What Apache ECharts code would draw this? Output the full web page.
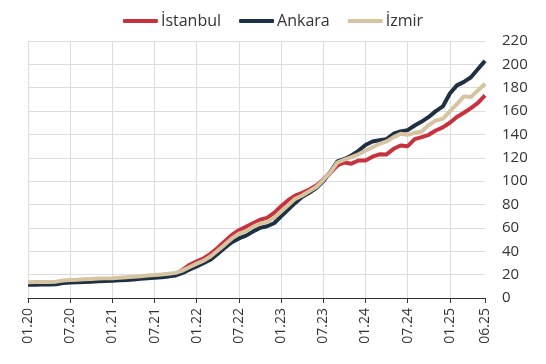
<!DOCTYPE html>
<html>
<head>
<meta charset="utf-8">
<script src="https://cdn.jsdelivr.net/npm/echarts@6/dist/echarts.min.js"></script>
<style>html,body{margin:0;padding:0;background:#fff;}#c{width:546px;height:364px;}</style>
</head>
<body>
<div id="c"></div>
<script>
const months = [];
for (let y = 20; y <= 25; y++) {
  for (let m = 1; m <= 12; m++) {
    if (y === 25 && m > 6) break;
    months.push((m < 10 ? '0' + m : '' + m) + '.' + y);
  }
}
const istanbul = [12.4,12.5,12.6,12.6,12.9,14,14.5,14.7,15,15.3,15.6,15.8,16,16.3,16.8,17.2,17.7,18.2,18.6,19.2,19.9,20.8,24,28.5,31.4,34,38,43,48.6,54,58,61,64,67,68.6,72.9,78.6,83.7,87.7,90,92.9,96.3,101.4,107,113.4,116,115,117.7,117.7,121,123,122.9,127.7,130.6,130,136,137.7,139.7,143.4,146,150,155,158.6,162.6,167,173.4];
const ankara = [11.3,11.4,11.5,11.5,11.7,12.8,13.3,13.5,13.7,14,14.3,14.5,14.8,15.1,15.5,15.9,16.4,16.8,17.3,17.8,18.5,19.3,21.5,24.5,27,30,33,38,43,47.7,51,53.4,57,60,61.4,64,70,75.7,81.4,86.6,90,94,100,108,117,119,122,126,131,134,135,136,140.6,142.6,143.7,147.7,151,155,160,164,175,182,185,189,196,203];
const izmir = [13.5,13.6,13.7,13.7,14,15,15.5,15.7,16,16.3,16.6,16.8,17,17.3,17.8,18.2,18.7,19.2,19.6,20.2,20.8,21.5,23.5,26.5,29.4,32,35.7,40.6,45.7,51,55,57,60.9,63.7,65,68.6,74,79.4,84.9,87.7,91.4,95,101,107.5,116,118.5,120.6,123,126,129,132,134,137.7,140.6,139.7,141.4,142.6,148,152,153.4,159.7,166,172.6,172,177.7,183.4];
const seriesNames = ['İstanbul', 'Ankara', 'İzmir'];
const colors = ['#c8323f', '#1e3044', '#d6c3a0'];

const lastIdx = months.length - 1;
const chart = echarts.init(document.getElementById('c'));
const font = '"Open Sans", "Noto Sans", sans-serif';
chart.setOption({
  animation: false,
  textStyle: { fontFamily: font },
  legend: {
    top: 8,
    left: 'center',
    icon: 'roundRect',
    itemWidth: 35,
    itemHeight: 4,
    itemGap: 18,
    textStyle: { fontSize: 16, color: '#333', fontFamily: font, padding: [0, 0, 0, -2] },
    data: seriesNames
  },
  grid: { left: 28, right: 61, top: 41, bottom: 66, containLabel: false },
  xAxis: {
    type: 'category',
    data: months,
    boundaryGap: false,
    axisLine: { lineStyle: { color: '#333', width: 1.2 } },
    axisTick: { length: 5, lineStyle: { color: '#333' }, interval: (i) => i % 6 === 0 || i === lastIdx },
    axisLabel: { rotate: 90, fontSize: 14, color: '#333', margin: 10, fontFamily: font,
      interval: (i) => i % 6 === 0 || i === lastIdx },
    splitLine: { show: true, lineStyle: { color: '#dcdcdc' }, interval: (i) => i % 6 === 0 }
  },
  yAxis: {
    type: 'value',
    position: 'right',
    min: 0, max: 220, interval: 20,
    axisLine: { show: false },
    axisTick: { show: false },
    axisLabel: { fontSize: 15, color: '#333', margin: 17, fontFamily: font },
    splitLine: { lineStyle: { color: '#dcdcdc' } }
  },
  series: [
    { name: seriesNames[0], type: 'line', data: istanbul, showSymbol: false, color: colors[0], lineStyle: { width: 4, color: colors[0] } },
    { name: seriesNames[1], type: 'line', data: ankara, showSymbol: false, color: colors[1], lineStyle: { width: 4, color: colors[1] } },
    { name: seriesNames[2], type: 'line', data: izmir, showSymbol: false, color: colors[2], lineStyle: { width: 4, color: colors[2] } }
  ]
});
</script>
</body>
</html>
